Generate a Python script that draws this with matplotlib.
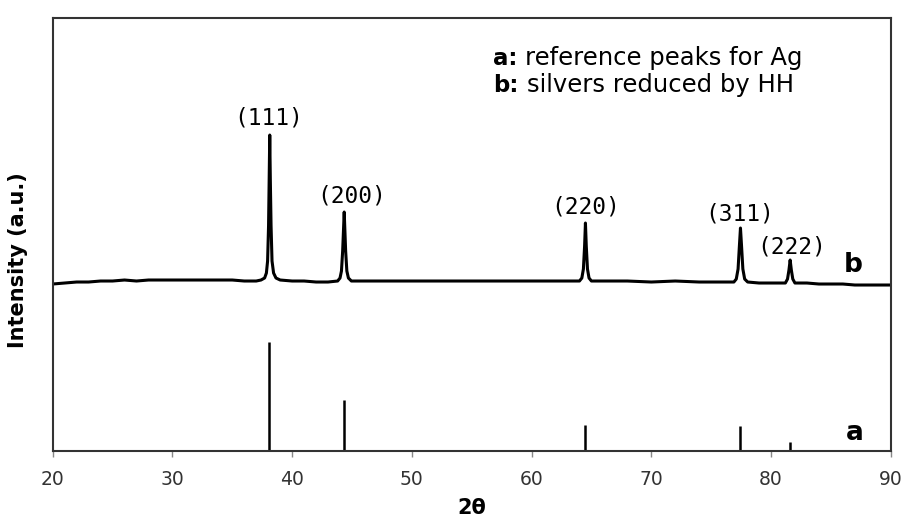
import matplotlib
matplotlib.use("Agg")
import matplotlib.pyplot as plt

# measured pattern (b), 2theta vs intensity (a.u.)
two_theta = [20, 21, 22, 23, 24, 25, 26, 27, 28, 29, 30, 31, 32, 33, 34, 35, 36, 37,
             37.4, 37.7, 37.85, 37.95, 38.03, 38.08, 38.13, 38.18, 38.24, 38.32, 38.45, 38.65, 39.0,
             40, 41, 42, 43, 43.8, 44.0, 44.12, 44.22, 44.35, 44.47, 44.57, 44.7, 44.95,
             46, 48, 50, 52, 54, 56, 58, 60, 62, 63, 64.0, 64.2, 64.33, 64.43, 64.5, 64.57, 64.67, 64.8, 65.0,
             66, 68, 70, 72, 74, 75, 76, 76.9, 77.1, 77.25, 77.36, 77.45, 77.54, 77.65, 77.8, 78.05,
             79, 80, 81.2, 81.38, 81.5, 81.6, 81.7, 81.82, 82.0, 83, 84, 85, 86, 87, 88, 89, 90]
intensity = [167, 168, 169, 169, 170, 170, 171, 170, 171, 171, 171, 171, 171, 171, 171, 171, 170, 170,
             171, 173, 178, 190, 225, 270, 316, 270, 225, 190, 178, 173, 171,
             170, 170, 169, 169, 170, 173, 180, 200, 239, 200, 180, 173, 170,
             170, 170, 170, 170, 170, 170, 170, 170, 170, 170, 170, 173, 182, 205, 228, 205, 182, 173, 170,
             170, 170, 169, 170, 169, 169, 169, 169, 172, 182, 205, 223, 205, 182, 172, 169,
             168, 168, 168, 172, 181, 191, 181, 172, 168, 168, 167, 167, 167, 166, 166, 166, 166]

# reference peaks for Ag (a)
ref_pos = [38.1, 44.3, 64.45, 77.4, 81.55]
ref_int = [109, 51, 26, 25, 9]

# hkl labels and where they sit
hkl = ["(111)", "(200)", "(220)", "(311)", "(222)"]
hkl_x = [38.0, 44.95, 64.55, 77.4, 81.7]
hkl_y = [327, 249, 238, 231, 198]

fig = plt.figure(figsize=(9.04, 5.16), dpi=100)
ax = fig.add_axes([0.0583, 0.126, 0.927, 0.839])

ax.plot(two_theta, intensity, color="black", lw=2.2)
ax.vlines(ref_pos, 0, ref_int, color="black", lw=1.8)

for lab, x, y in zip(hkl, hkl_x, hkl_y):
    ax.text(x, y, lab, ha="center", va="baseline", fontsize=16.5,
            family="DejaVu Sans Mono", color="black")

ax.text(86.9, 179, "b", ha="center", va="baseline", fontsize=19, fontweight="bold")
ax.text(87.0, 11, "a", ha="center", va="baseline", fontsize=19, fontweight="bold")

# legend-like note
fig.text(493 / 904, 1 - 65 / 516, "a:", fontsize=16.5, fontweight="bold", va="baseline")
fig.text(525 / 904, 1 - 65 / 516, "reference peaks for Ag", fontsize=17.5, va="baseline")
fig.text(493 / 904, 1 - 92 / 516, "b:", fontsize=16.5, fontweight="bold", va="baseline")
fig.text(527 / 904, 1 - 92 / 516, "silvers reduced by HH", fontsize=17.5, va="baseline")

ax.set_xlim(20, 90)
ax.set_ylim(0, 433)
ax.set_xticks(range(20, 91, 10))
ax.set_yticks([])
ax.tick_params(axis="x", direction="out", length=4, width=1, colors="#888888",
               labelcolor="#333333", labelsize=13.5, pad=10)
for s in ax.spines.values():
    s.set_color("#333333")
    s.set_linewidth(1.5)

ax.set_xlabel("2θ", fontsize=15, fontweight="bold", labelpad=6)
ax.set_ylabel("Intensity (a.u.)", fontsize=15, fontweight="bold")
ax.yaxis.set_label_coords(-0.029, 0.441)

fig.savefig("out.png", dpi=100)
